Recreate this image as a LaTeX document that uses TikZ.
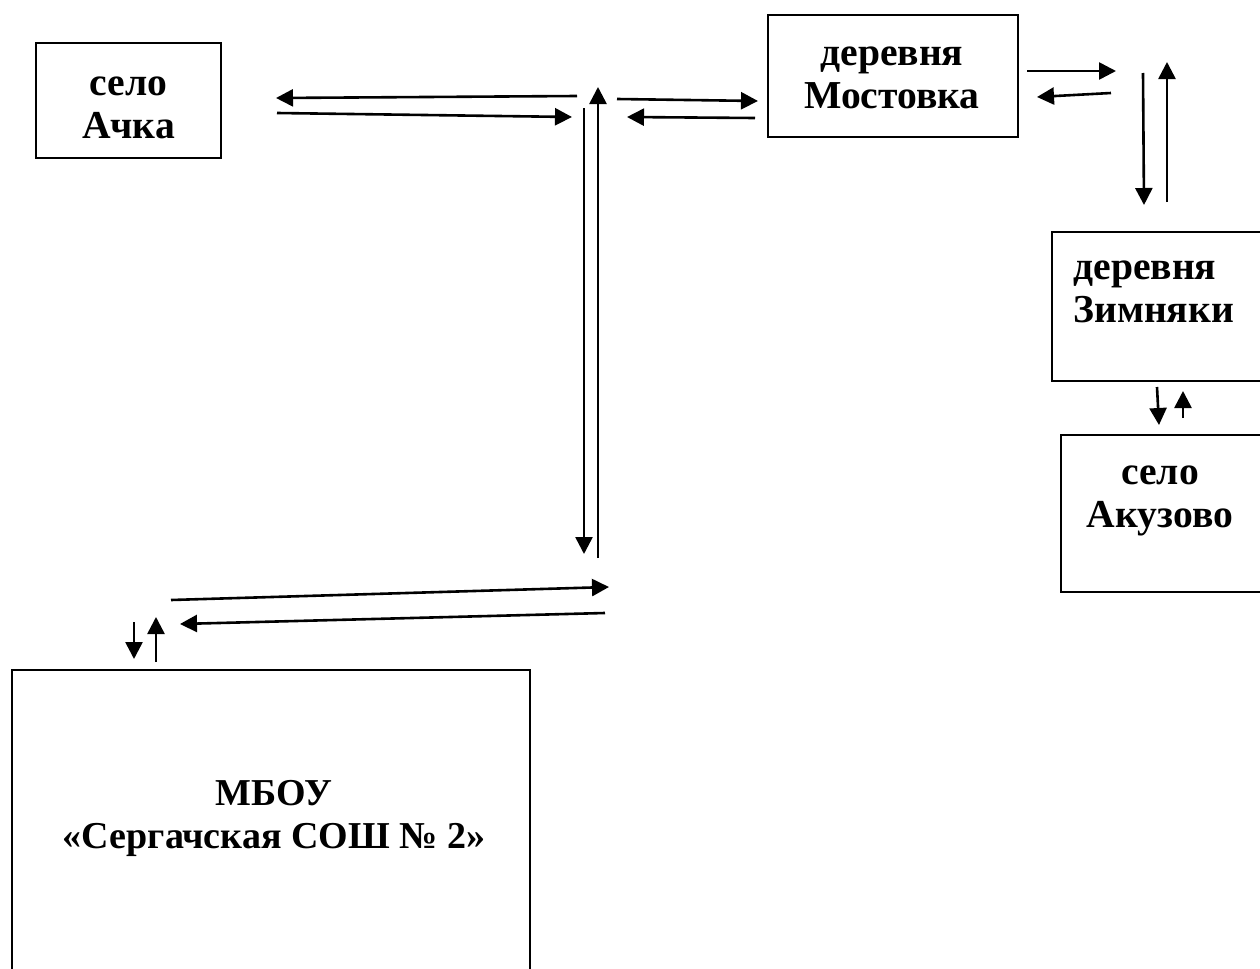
\documentclass[tikz,border=0pt]{standalone}
\usepackage{fontspec}
\setmainfont{Liberation Serif}
\usetikzlibrary{arrows.meta}
\tikzset{
  box/.style={draw, line width=1pt, inner sep=0pt},
  lbl/.style={inner sep=0pt, align=center, font=\bfseries\fontsize{19.8}{21.8}\selectfont},
  arr/.style={line width=1.3pt, -{Triangle[length=8.5pt,width=8.5pt]}},
}
\begin{document}
\begin{tikzpicture}[x=0.5pt,y=-0.5pt]
\clip (0,0) rectangle (1260,969);
\fill[white] (0,0) rectangle (1260,969);
% boxes
\node[box, minimum width=92.5pt, minimum height=57.5pt] (achka) at (128.5,100.5) {};
\node[box, minimum width=125pt, minimum height=61pt] (most) at (893,76) {};
\node[box, minimum width=111.5pt, minimum height=74.5pt] (zimn) at (1163.5,306.5) {};
\node[box, minimum width=107pt, minimum height=78.5pt] (akuz) at (1168,513.5) {};
\node[box, minimum width=259pt, minimum height=160pt] (mbou) at (270.5,830) {};
% texts
\node[lbl] (achkat) at (128.5,108) {село\\Ачка};
\node[lbl] (mostt) at (892,78) {деревня\\Мостовка};
\node[lbl, align=left, anchor=west] (zimnt) at (1073,292) {деревня\\Зимняки};
\node[lbl] (akuzt) at (1160,501) {село\\Акузово};
\node[lbl, font=\bfseries\fontsize{19}{21.8}\selectfont] (mbout) at (274,818.5) {МБОУ\\«Сергачская СОШ № 2»};
% arrow end points
\coordinate (a1s) at (577,96);   \coordinate (a1e) at (276,98);
\coordinate (a2s) at (277,113);  \coordinate (a2e) at (572,117);
\coordinate (a3s) at (598,558);  \coordinate (a3e) at (598,87);
\coordinate (a4s) at (584,108);  \coordinate (a4e) at (584,554);
\coordinate (a5s) at (617,99);   \coordinate (a5e) at (758,101);
\coordinate (a6s) at (755,118);  \coordinate (a6e) at (627,117);
\coordinate (a7s) at (1027,71);  \coordinate (a7e) at (1116,71);
\coordinate (a8s) at (1111,93);  \coordinate (a8e) at (1037,97);
\coordinate (a9s) at (1143,73);  \coordinate (a9e) at (1144,205);
\coordinate (a10s) at (1167,202); \coordinate (a10e) at (1167,62);
\coordinate (a11s) at (1157,387); \coordinate (a11e) at (1159,425);
\coordinate (a12s) at (1183,418); \coordinate (a12e) at (1183,391);
\coordinate (a13s) at (171,600);  \coordinate (a13e) at (609,587);
\coordinate (a14s) at (605,613);  \coordinate (a14e) at (180,624);
\coordinate (a15s) at (134,622);  \coordinate (a15e) at (134,659);
\coordinate (a16s) at (156,662);  \coordinate (a16e) at (156,617);
% arrows
\foreach \i in {1,...,16} {\draw[arr] (a\i s) -- (a\i e);}
\end{tikzpicture}
\end{document}
